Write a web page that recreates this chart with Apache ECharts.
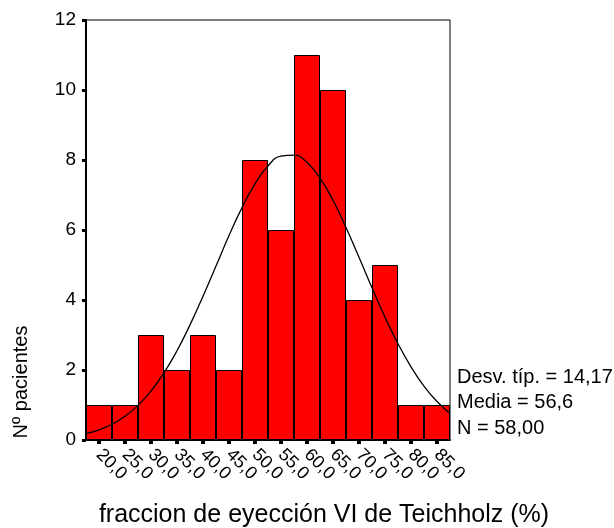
<!DOCTYPE html>
<html>
<head>
<meta charset="utf-8">
<script src="https://cdn.jsdelivr.net/npm/echarts@6/dist/echarts.min.js"></script>
<style>html,body{margin:0;padding:0;background:#fff;}#c{width:614px;height:528px;}</style>
</head>
<body>
<div id="c"></div>
<script>
// Histogram bins (bin centers) and counts
const categories = ['20,0','25,0','30,0','35,0','40,0','45,0','50,0','55,0','60,0','65,0','70,0','75,0','80,0','85,0'];
const counts = [1, 1, 3, 2, 3, 2, 8, 6, 11, 10, 4, 5, 1, 1];
// Normal curve (x in %, y in patients)
const curveX = [17.5,20,22.5,25,27.5,30,32.5,35,37.5,40,42.5,45,47.5,50,52.5,55,57.5,60,62.5,65,67.5,70,72.5,75,77.5,80,82.5,85,87.5];
const curveY = [0.18,0.29,0.45,0.68,0.99,1.4,1.92,2.55,3.29,4.11,4.97,5.84,6.64,7.32,7.83,8.11,8.14,7.93,7.48,6.85,6.07,5.22,4.35,3.51,2.75,2.09,1.54,1.1,0.76];
const yTicks = [0, 2, 4, 6, 8, 10, 12];
const statsLines = ['Desv. típ. = 14,17', 'Media = 56,6', 'N = 58,00'];
const xTitle = 'fraccion de eyección VI de Teichholz (%)';
const yTitle = 'Nº pacientes';

const FONT = '"Liberation Sans", Arial, sans-serif';
const chart = echarts.init(document.getElementById('c'));
const statY = [377, 402, 428];
chart.setOption({
  animation: false,
  backgroundColor: '#fff',
  grid: { left: 86, right: 164, top: 20, bottom: 88, show: true, borderColor: '#000', borderWidth: 1, backgroundColor: 'transparent' },
  xAxis: [
    {
      type: 'category', data: categories, boundaryGap: true,
      axisLine: { show: true, lineStyle: { color: '#000', width: 2 } },
      axisTick: { show: true, alignWithLabel: true, length: 4, lineStyle: { color: '#000', width: 4 } },
      axisLabel: { rotate: -45, margin: 12, color: '#000', fontSize: 18, fontFamily: FONT, interval: 0 },
      splitLine: { show: false }
    },
    { type: 'value', min: 17.5, max: 87.5, show: false }
  ],
  yAxis: {
    type: 'value', min: yTicks[0], max: yTicks[yTicks.length - 1], interval: 2,
    axisLine: { show: true, lineStyle: { color: '#000', width: 2 } },
    axisTick: { show: true, length: 4, lineStyle: { color: '#000', width: 3 } },
    axisLabel: { margin: 10, color: '#000', fontSize: 19, fontFamily: FONT },
    splitLine: { show: false }
  },
  series: [
    {
      type: 'bar', data: counts, xAxisIndex: 0, barWidth: '100%', barCategoryGap: '0%',
      itemStyle: { color: '#ff0000', borderColor: '#000', borderWidth: 1 }
    },
    {
      type: 'line', xAxisIndex: 1, data: curveX.map((x, i) => [x, curveY[i]]),
      smooth: true, showSymbol: false, symbol: 'none',
      lineStyle: { color: '#000', width: 1.3 }, z: 5
    }
  ],
  graphic: [
    { type: 'text', x: 21, y: 382, rotation: Math.PI / 2,
      style: { text: yTitle, fill: '#000', font: '20px ' + FONT, textAlign: 'center', textVerticalAlign: 'middle' } },
    { type: 'text', x: 324, y: 515,
      style: { text: xTitle, fill: '#000', font: '25px ' + FONT, textAlign: 'center', textVerticalAlign: 'middle' } }
  ].concat(statsLines.map((t, i) => ({
    type: 'text', x: 457, y: statY[i],
    style: { text: t, fill: '#000', font: '20px ' + FONT, textAlign: 'left', textVerticalAlign: 'middle' }
  })))
});
</script>
</body>
</html>
